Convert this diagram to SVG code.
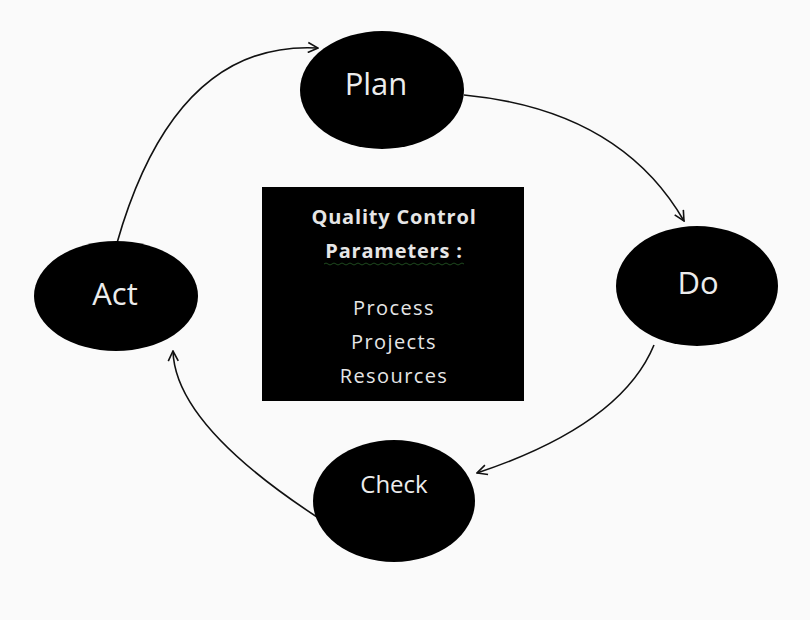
<svg xmlns="http://www.w3.org/2000/svg" width="810" height="620" viewBox="0 0 810 620">
  <style>
    .node { fill: #000; }
    .lbl { font-family: "Open Sans", "Liberation Sans", sans-serif; fill: #ececec; text-anchor: middle; }
    .box-t { font-family: "Open Sans", "Liberation Sans", sans-serif; fill: #e6e6e6; text-anchor: middle; font-size: 20px; letter-spacing: 1.4px; }
    .box-h { font-family: "Open Sans", "Liberation Sans", sans-serif; fill: #e6e6e6; text-anchor: middle; font-size: 20px; font-weight: bold; letter-spacing: 0.8px; }
    .conn { fill: none; stroke: #111; stroke-width: 1.6; marker-end: url(#arr); }
  </style>
  <defs>
    <marker id="arr" viewBox="0 0 12 12" refX="11" refY="6" markerWidth="12" markerHeight="12" markerUnits="userSpaceOnUse" orient="auto">
      <path d="M1,1 L11,6 L1,11" fill="none" stroke="#111" stroke-width="1.6"/>
    </marker>
  </defs>
  <rect width="810" height="620" fill="#fafafa"/>

  <g id="connectors">
    <path class="conn" d="M117,243 Q175,40 318,48"/>
    <path class="conn" d="M464,95 Q620,110 684,221"/>
    <path class="conn" d="M654,345 Q621,425 477,473"/>
    <path class="conn" d="M317,517 Q175,424 173,351"/>
  </g>

  <g id="plan">
    <ellipse class="node" cx="382" cy="90" rx="82" ry="59"/>
    <text class="lbl" x="376" y="95" font-size="31">Plan</text>
  </g>
  <g id="do">
    <ellipse class="node" cx="697" cy="286" rx="81" ry="60"/>
    <text class="lbl" x="698" y="294" font-size="31">Do</text>
  </g>
  <g id="check">
    <ellipse class="node" cx="394" cy="501" rx="81" ry="61"/>
    <text class="lbl" x="394" y="493" font-size="24">Check</text>
  </g>
  <g id="act">
    <ellipse class="node" cx="116" cy="296" rx="82" ry="55"/>
    <text class="lbl" x="115" y="305" font-size="31">Act</text>
  </g>

  <g id="parameters">
    <rect x="262" y="187" width="262" height="214" fill="#000"/>
    <text class="box-h" x="394" y="224">Quality Control</text>
    <text class="box-h" x="394" y="258">Parameters :</text>
    <path d="M324,264 q2,-2 4,0 t4,0 t4,0 t4,0 t4,0 t4,0 t4,0 t4,0 t4,0 t4,0 t4,0 t4,0 t4,0 t4,0 t4,0 t4,0 t4,0 t4,0 t4,0 t4,0 t4,0 t4,0 t4,0 t4,0 t4,0 t4,0 t4,0 t4,0 t4,0 t4,0 t4,0 t4,0 t4,0 t4,0 t4,0" fill="none" stroke="#1f4a1f" stroke-width="1"/>
    <text class="box-t" x="394" y="315">Process</text>
    <text class="box-t" x="394" y="349">Projects</text>
    <text class="box-t" x="394" y="383">Resources</text>
  </g>
</svg>
